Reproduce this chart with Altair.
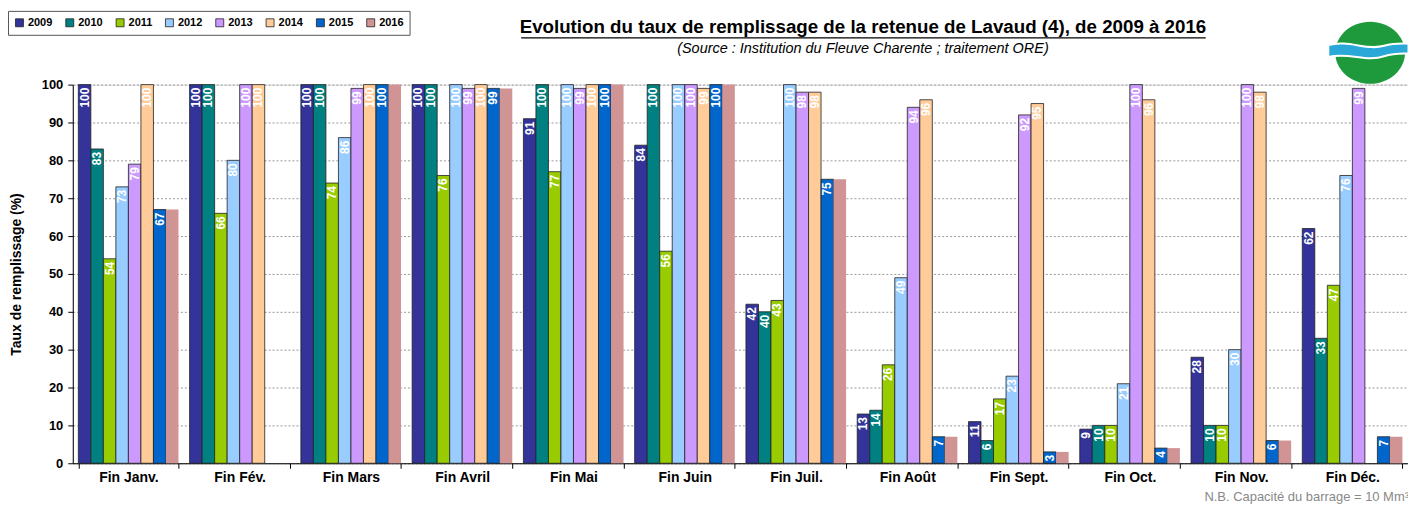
import altair as alt
import pandas as pd

months = ["Fin Janv.", "Fin Fév.", "Fin Mars", "Fin Avril", "Fin Mai", "Fin Juin",
          "Fin Juil.", "Fin Août", "Fin Sept.", "Fin Oct.", "Fin Nov.", "Fin Déc."]
years = ["2009", "2010", "2011", "2012", "2013", "2014", "2015", "2016"]
colors = ["#333399", "#008080", "#99CC00", "#99CCFF", "#CC99FF", "#FFCC99", "#0066CC", "#D09494"]
y_ticks = [0, 10, 20, 30, 40, 50, 60, 70, 80, 90, 100]

v2009 = [100, 100, 100, 100, 91, 84, 42, 13, 11, 9, 28, 62]
v2010 = [83, 100, 100, 100, 100, 100, 40, 14, 6, 10, 10, 33]
v2011 = [54, 66, 74, 76, 77, 56, 43, 26, 17, 10, 10, 47]
v2012 = [73, 80, 86, 100, 100, 100, 100, 49, 23, 21, 30, 76]
v2013 = [79, 100, 99, 99, 99, 100, 98, 94, 92, 100, 100, 99]
v2014 = [100, 100, 100, 100, 100, 99, 98, 96, 95, 96, 98, None]
v2015 = [67, None, 100, 99, 100, 100, 75, 7, 3, 4, 6, 7]
v2016 = [67, None, 100, 99, 100, 100, 75, 7, 3, 4, 6, 7]

series = [v2009, v2010, v2011, v2012, v2013, v2014, v2015, v2016]
rows = []
for y, vals in zip(years, series):
    for m, v in zip(months, vals):
        if v is not None:
            rows.append({"month": m, "year": y, "value": v})
df = pd.DataFrame(rows)

FONT = "Liberation Sans, Arial, sans-serif"

base = alt.Chart(df)

x_enc = alt.X("month:N", sort=months, title=None,
              scale=alt.Scale(paddingInner=0.1, paddingOuter=0.05),
              axis=alt.Axis(tickBand="extent", labelAngle=0, labelFontWeight="bold",
                            labelFontSize=14, labelColor="#000", domainColor="#000",
                            tickColor="#000", tickSize=5, labelPadding=2, labelFont=FONT))
xo_enc = alt.XOffset("year:N", sort=years, scale=alt.Scale(paddingInner=0, paddingOuter=0))
y_axis = alt.Axis(values=y_ticks, title="Taux de remplissage (%)",
                  titleFontWeight="bold", titleFontSize=14, titleFont=FONT,
                  titleColor="#000", titlePadding=18, labelOverlap=False,
                  labelFontWeight="bold", labelFontSize=13, labelFont=FONT,
                  labelColor="#000", domainColor="#000", tickColor="#000",
                  tickSize=5, labelPadding=5, grid=True, gridColor="#999",
                  gridDash=[2, 2], gridWidth=1)
y_enc = alt.Y("value:Q", scale=alt.Scale(domain=[0, 100], nice=False), axis=y_axis)

bars = base.mark_bar(stroke="#222", strokeWidth=0.8).encode(
    x=x_enc, xOffset=xo_enc, y=y_enc,
    color=alt.Color("year:N", sort=years, scale=alt.Scale(domain=years, range=colors),
                    legend=alt.Legend(title=None, orient="none", legendX=-65, legendY=-74,
                                      direction="horizontal", columns=8, symbolType="square",
                                      symbolSize=64, symbolStrokeColor="#222",
                                      symbolStrokeWidth=0.8, labelFontWeight="bold",
                                      labelFontSize=11, labelFont=FONT, labelColor="#000",
                                      labelOffset=3, columnPadding=10.5, padding=6,
                                      strokeColor="#555", fillColor="white")),
    strokeOpacity=alt.condition("datum.year == '2016'", alt.value(0), alt.value(1)),
)

labels = base.transform_filter("datum.year != '2016'").mark_text(
    angle=270, align="right", baseline="middle", dx=-3, color="white",
    fontWeight="bold", fontSize=12, font=FONT
).encode(x=x_enc, xOffset=xo_enc, y=y_enc, text="value:Q")

one = alt.Data(values=[{"a": 1}])

title = alt.Chart(one).mark_text(
    text="Evolution du taux de remplissage de la retenue de Lavaud (4), de 2009 à 2016",
    font=FONT, fontSize=18.8, fontWeight="bold", color="#000", align="center", baseline="middle"
).encode(x=alt.value(793), y=alt.value(-58))

underline = alt.Chart(one).mark_rule(color="#000", strokeWidth=1.2).encode(
    x=alt.value(450), x2=alt.value(1137), y=alt.value(-47))

subtitle = alt.Chart(one).mark_text(
    text="(Source : Institution du Fleuve Charente ; traitement ORE)",
    font=FONT, fontSize=14.5, fontStyle="italic", color="#000", align="center", baseline="middle"
).encode(x=alt.value(793), y=alt.value(-36))

footnote = alt.Chart(one).mark_text(
    text="N.B. Capacité du barrage = 10 Mm³", font=FONT, fontSize=13, color="#888",
    align="right", baseline="middle"
).encode(x=alt.value(1341), y=alt.value(414))

logo_green = alt.Chart(one).mark_point(
    shape="M-1,0 A1,0.89 0 1,1 1,0 A1,0.89 0 1,1 -1,0 Z", filled=True,
    fill="#1E9A3C", opacity=1, strokeWidth=0
).encode(x=alt.value(1302), y=alt.value(-32), size=alt.value(4900))

logo_band = alt.Chart(one).mark_point(
    shape="M-1.2,-0.22 C-0.6,-0.38 -0.1,-0.05 0.4,-0.2 C0.7,-0.28 0.9,-0.26 1.1,-0.26 L1.1,0.02 C0.9,0.02 0.7,0.0 0.4,0.1 C-0.1,0.28 -0.6,-0.02 -1.2,0.12 Z",
    filled=True, fill="#2AA9D8", stroke="white", strokeWidth=2, opacity=1
).encode(x=alt.value(1302), y=alt.value(-32), size=alt.value(4900))

frame = alt.Chart(one).mark_rule(color="#999", strokeWidth=1).encode(
    x=alt.value(-71), y=alt.value(-80), y2=alt.value(430))

chart = alt.layer(frame, bars, labels, title, underline, subtitle, footnote,
                  logo_green, logo_band).properties(
    width=1340, height=380,
    padding={"left": 65, "top": 76, "right": 0, "bottom": 41},
    autosize=alt.AutoSizeParams(type="none"),
).configure_view(stroke=None).configure_legend(strokeDash=[2, 2]).configure(background="white")

chart.save("out.html", embed_options={"renderer": "svg", "actions": False})
